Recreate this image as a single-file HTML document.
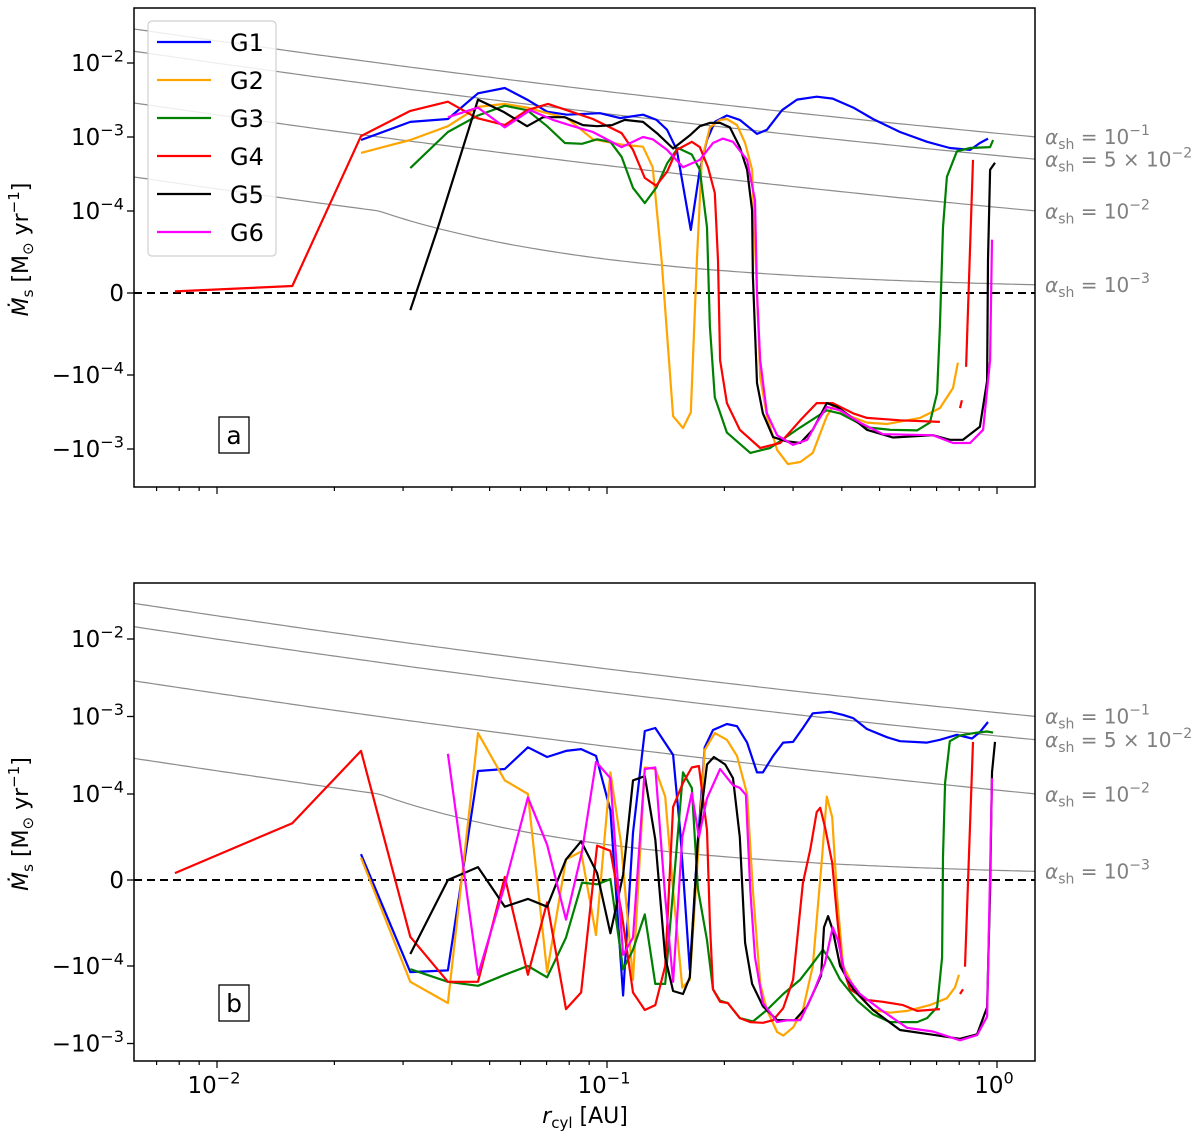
<!DOCTYPE html>
<html><head><meta charset="utf-8"><style>
html,body{margin:0;padding:0;background:#fff;}
svg{display:block;font-family:"DejaVu Sans","Liberation Sans",sans-serif;}
</style></head><body>
<svg id="chart" width="1200" height="1133" viewBox="0 0 1200 1133" xmlns="http://www.w3.org/2000/svg">
<defs>
<clipPath id="clipA"><rect x="134" y="8" width="901" height="479"/></clipPath>
<clipPath id="clipB"><rect x="134" y="583" width="901" height="478"/></clipPath>
</defs>
<g id="root"></g>
</svg>
<script>
// ---------- data ----------
const alphaValues = [0.1, 0.05, 0.01, 0.001];
const alphaLabels = ["10<sup>-1</sup>", "5 × 10<sup>-2</sup>", "10<sup>-2</sup>", "10<sup>-3</sup>"];
const alphaGridR = [0.00562, 0.01, 0.0178, 0.0316, 0.0562, 0.1, 0.178, 0.316, 0.562, 1, 1.413];
const alphaGridLogF = [-0.512, -0.701, -0.884, -1.059, -1.226, -1.386, -1.538, -1.683, -1.820, -1.950, -2.024];
const seriesNames = ["G1","G2","G3","G4","G5","G6"];
const seriesColors = ["#0000ff","#ffa500","#008000","#ff0000","#000000","#ff00ff"];
const xTickLabels = ["10<sup>-2</sup>","10<sup>-1</sup>","10<sup>0</sup>"];
const xTickValues = [0.01, 0.1, 1];
const yTickValues = [1e-2, 1e-3, 1e-4, 0, -1e-4, -1e-3];
const yTickLabels = ["10<sup>-2</sup>","10<sup>-3</sup>","10<sup>-4</sup>","0","−10<sup>-4</sup>","−10<sup>-3</sup>"];

// Panel a
const a_G1_r = [0.0234,0.0313,0.0391,0.0467,0.0547,0.0624,0.0702,0.0789,0.096,0.108,0.1237,0.134,0.1426,0.151,0.164,0.173,0.1805,0.189,0.203,0.219,0.2424,0.257,0.281,0.307,0.345,0.379,0.428,0.481,0.564,0.662,0.757,0.853,0.904,0.948];
const a_G1_v = [9.1e-4,1.6e-3,1.75e-3,3.9e-3,4.6e-3,3.2e-3,2.2e-3,2.0e-3,2.1e-3,1.8e-3,2.0e-3,1.7e-3,1.25e-3,6.7e-4,7.7e-5,3.6e-4,9.1e-4,1.6e-3,1.95e-3,1.7e-3,1.1e-3,1.25e-3,2.3e-3,3.2e-3,3.5e-3,3.3e-3,2.5e-3,1.75e-3,1.17e-3,8.6e-4,7.1e-4,6.7e-4,8.3e-4,9.5e-4];
const a_G2_r = [0.0234,0.0313,0.0391,0.0467,0.0547,0.0624,0.0702,0.0789,0.092,0.109,0.1237,0.131,0.138,0.1477,0.1566,0.164,0.170,0.175,0.1836,0.195,0.203,0.2155,0.226,0.2355,0.2424,0.247,0.257,0.273,0.291,0.313,0.337,0.366,0.379,0.420,0.464,0.522,0.635,0.714,0.771,0.794];
const a_G2_v = [6.1e-4,9.1e-4,1.4e-3,2.55e-3,2.8e-3,2.5e-3,2.1e-3,1.8e-3,9.3e-4,7.9e-4,7.4e-4,3.9e-4,4e-5,-3.6e-4,-5.2e-4,-3.2e-4,4e-5,4.9e-4,1.35e-3,1.7e-3,1.75e-3,1.45e-3,8.3e-4,3.6e-4,0,-1.06e-4,-3.6e-4,-1.03e-3,-1.6e-3,-1.5e-3,-1.13e-3,-3.6e-4,-2.7e-4,-3.6e-4,-4.4e-4,-4.6e-4,-3.8e-4,-2.8e-4,-1.5e-4,-8.5e-5];
const a_G3_r = [0.0313,0.0391,0.0467,0.0547,0.0624,0.0702,0.078,0.0863,0.0943,0.102,0.109,0.1166,0.125,0.134,0.1426,0.152,0.165,0.173,0.1805,0.1836,0.189,0.203,0.233,0.262,0.313,0.366,0.396,0.464,0.532,0.624,0.673,0.702,0.714,0.727,0.744,0.789,0.853,0.960,0.977];
const a_G3_v = [3.8e-4,1.17e-3,1.95e-3,2.65e-3,2.3e-3,1.4e-3,8.3e-4,8.1e-4,9.3e-4,8.6e-4,5.4e-4,2.05e-4,1.28e-4,2.1e-4,4.4e-4,7.1e-4,5.8e-4,3.6e-4,8e-5,-4.1e-5,-2e-4,-6e-4,-1.13e-3,-9.7e-4,-5.1e-4,-3e-4,-3.3e-4,-5.1e-4,-5.5e-4,-5.6e-4,-4.4e-4,-1.75e-4,-4.1e-5,8e-5,2.9e-4,6.4e-4,7.1e-4,7.3e-4,9.1e-4];
const a_G4_r = [0.0078,0.0156,0.0234,0.0313,0.0391,0.0464,0.0547,0.0624,0.0706,0.0789,0.092,0.109,0.1166,0.125,0.1336,0.1426,0.151,0.165,0.173,0.1815,0.189,0.1926,0.195,0.203,0.219,0.247,0.278,0.313,0.345,0.379,0.428,0.464,0.564,0.714,0.76,0.804,0.813,0.82,0.833,0.868];
const a_G4_v = [2e-6,8.5e-6,1.03e-3,2.25e-3,3.0e-3,1.8e-3,1.45e-3,2.3e-3,2.8e-3,2.3e-3,1.75e-3,1.13e-3,6.7e-4,2.8e-4,2.2e-4,3.4e-4,6.7e-4,8.6e-4,7.3e-4,3.9e-4,1.75e-4,4e-5,-8.2e-5,-2.4e-4,-5.5e-4,-9.7e-4,-8.3e-4,-4.1e-4,-2.4e-4,-2.4e-4,-3.3e-4,-3.8e-4,-4.1e-4,-4.3e-4,null,-2.8e-4,-2.2e-4,null,-9e-5,4.9e-4];
const a_G5_r = [0.0313,0.0367,0.0467,0.0542,0.0624,0.0686,0.078,0.0868,0.0943,0.103,0.111,0.1237,0.135,0.1477,0.163,0.173,0.1836,0.195,0.2066,0.219,0.2287,0.2355,0.2367,0.2424,0.251,0.2666,0.2895,0.313,0.337,0.366,0.389,0.420,0.464,0.541,0.685,0.757,0.818,0.904,0.943,0.948,0.960,0.988];
const a_G5_v = [-2.1e-5,7.7e-5,3.2e-3,2.2e-3,1.4e-3,1.85e-3,1.85e-3,1.45e-3,1.4e-3,1.45e-3,1.7e-3,1.6e-3,1.1e-3,7e-4,1.05e-3,1.4e-3,1.55e-3,1.55e-3,1.35e-3,7.3e-4,3.6e-4,1.02e-4,2e-5,-1.28e-4,-3.3e-4,-6.9e-4,-7.9e-4,-8.3e-4,-5.5e-4,-2.4e-4,-2.7e-4,-3.6e-4,-5.5e-4,-7e-4,-6.5e-4,-7.5e-4,-7.5e-4,-5e-4,-1.2e-4,4e-5,3.6e-4,4.5e-4];
const a_G6_r = [0.0391,0.0467,0.0547,0.0635,0.0727,0.0818,0.092,0.109,0.1237,0.131,0.1426,0.1566,0.173,0.187,0.198,0.2104,0.2287,0.2396,0.2424,0.247,0.257,0.273,0.300,0.326,0.345,0.366,0.396,0.445,0.510,0.685,0.771,0.853,0.921,0.960,0.971];
const a_G6_v = [1.85e-3,2.5e-3,1.35e-3,2.3e-3,1.7e-3,1.4e-3,1.17e-3,7.3e-4,1e-3,9.3e-4,6.7e-4,3.9e-4,4.9e-4,8.3e-4,9.5e-4,8.6e-4,4.9e-4,1.4e-4,0,-8.2e-5,-3.3e-4,-6.5e-4,-8.8e-4,-7.5e-4,-4.4e-4,-2.7e-4,-3e-4,-4.4e-4,-6.3e-4,-6.5e-4,-8.3e-4,-8.3e-4,-5.5e-4,-8.2e-5,6.5e-5];

// Panel b
const b_G1_r = [0.0234,0.0313,0.0391,0.0467,0.0547,0.0627,0.0702,0.0785,0.0858,0.0937,0.102,0.11,0.1166,0.125,0.133,0.1477,0.154,0.163,0.170,0.178,0.187,0.203,0.2155,0.2287,0.2424,0.251,0.2666,0.283,0.300,0.318,0.337,0.373,0.403,0.428,0.464,0.522,0.564,0.662,0.714,0.789,0.863,0.904,0.948];
const b_G1_v = [3e-5,-1.2e-4,-1.14e-4,1.98e-4,2.1e-4,4e-4,3e-4,3.6e-4,3.8e-4,3.1e-4,8.1e-5,-2.4e-4,5.5e-5,6.5e-4,7.1e-4,3.2e-4,5.8e-5,-1.13e-4,2.7e-5,4e-4,6.7e-4,8e-4,7.5e-4,4.6e-4,1.9e-4,1.9e-4,3.1e-4,4.6e-4,4.7e-4,7.1e-4,1.1e-3,1.15e-3,1.05e-3,9.5e-4,6.9e-4,5.4e-4,4.8e-4,4.6e-4,5e-4,5.8e-4,5.2e-4,6.3e-4,8.5e-4];
const b_G2_r = [0.0234,0.0313,0.0391,0.0467,0.0547,0.0627,0.0702,0.0785,0.0858,0.0937,0.102,0.1086,0.1166,0.125,0.133,0.141,0.1477,0.156,0.163,0.171,0.178,0.189,0.203,0.2155,0.2287,0.2367,0.247,0.257,0.273,0.283,0.300,0.318,0.337,0.356,0.366,0.378,0.389,0.403,0.438,0.481,0.532,0.588,0.673,0.744,0.780,0.799];
const b_G2_v = [2.6e-5,-1.6e-4,-3e-4,6.1e-4,1.5e-4,1e-4,-1.2e-4,2.4e-5,3.3e-5,-6.4e-5,1.9e-4,4.3e-5,-1.5e-4,2.2e-4,2.1e-4,9.7e-5,-1.2e-5,-1.9e-4,-1.5e-4,2.7e-5,3.7e-4,6.1e-4,5e-4,3.1e-4,1e-4,-1.2e-5,-1.7e-4,-3.7e-4,-7.1e-4,-7.9e-4,-6.2e-4,-3.7e-4,-1e-4,2.7e-5,9.7e-5,7.3e-5,-2e-5,-1e-4,-2.3e-4,-3.7e-4,-4e-4,-3.8e-4,-3.2e-4,-2.6e-4,-1.9e-4,-1.3e-4];
const b_G3_r = [0.0313,0.0391,0.0467,0.0547,0.0627,0.0702,0.0785,0.0863,0.0943,0.102,0.11,0.1166,0.125,0.133,0.141,0.1477,0.1566,0.165,0.171,0.1805,0.187,0.195,0.204,0.219,0.2367,0.257,0.283,0.313,0.337,0.358,0.373,0.396,0.438,0.481,0.532,0.624,0.662,0.702,0.723,0.727,0.736,0.757,0.804,0.889,0.943,0.977];
const b_G3_v = [-1.1e-4,-1.6e-4,-1.8e-4,-1.3e-4,-1.0e-4,-1.4e-4,-6.7e-5,-3e-6,-5e-6,1e-6,-1.1e-4,-8.1e-5,-4e-5,-1.7e-4,-1.7e-4,-1.2e-5,1.9e-4,1.2e-4,-1e-5,-7e-5,-2e-4,-2.8e-4,-3e-4,-4.7e-4,-5.2e-4,-3.7e-4,-2.3e-4,-1.5e-4,-9.7e-5,-8.1e-5,-9.3e-5,-1.5e-4,-2.8e-4,-4.2e-4,-5.3e-4,-5.3e-4,-4.7e-4,-3.4e-4,-9e-5,2.7e-5,1.4e-4,4.8e-4,5.7e-4,6.2e-4,6.4e-4,6.2e-4];
const b_G4_r = [0.0078,0.0156,0.0234,0.0313,0.0391,0.0467,0.0547,0.0627,0.0702,0.0785,0.0858,0.0943,0.102,0.109,0.1166,0.125,0.133,0.141,0.1477,0.1566,0.165,0.172,0.1805,0.1836,0.187,0.195,0.204,0.219,0.233,0.251,0.2666,0.283,0.300,0.318,0.332,0.345,0.352,0.362,0.378,0.389,0.401,0.420,0.464,0.510,0.574,0.624,0.714,0.76,0.804,0.818,0.822,0.828,0.868];
const b_G4_v = [8e-6,6.6e-5,3.6e-4,-6.6e-5,-1.6e-4,-1.6e-4,3.5e-6,-1.3e-4,-2.6e-5,-3.6e-4,-2.2e-4,4e-5,3.4e-5,-3.8e-5,-2.2e-4,-3.7e-4,-3.2e-4,-1.0e-4,8.5e-5,1.39e-4,2.2e-4,2.3e-4,5.8e-5,-5e-5,-2e-4,-2.9e-4,-3e-4,-4.7e-4,-5.3e-4,-5.4e-4,-5e-4,-3.5e-4,-1.5e-4,-3.5e-6,3.5e-5,7.9e-5,8.4e-5,6.2e-5,2e-5,-4.3e-5,-1e-4,-2e-4,-2.75e-4,-2.9e-4,-3.2e-4,-3.8e-4,-3.6e-4,null,-2.3e-4,-2e-4,null,-1.02e-4,4.7e-4];
const b_G5_r = [0.0313,0.0391,0.0467,0.0547,0.0627,0.0702,0.0785,0.0858,0.0943,0.102,0.11,0.1166,0.125,0.133,0.141,0.1477,0.1566,0.163,0.171,0.1805,0.188,0.201,0.2104,0.219,0.226,0.2355,0.251,0.273,0.303,0.326,0.354,0.360,0.369,0.379,0.396,0.428,0.481,0.564,0.673,0.804,0.889,0.943,0.960,0.971,0.988];
const b_G5_v = [-8.6e-5,0,1.5e-5,-3.1e-5,-2.2e-5,-3.1e-5,2.4e-5,4.5e-5,8e-6,-6.2e-5,6e-6,1.5e-4,1.7e-4,4.7e-5,-9e-5,-2.1e-4,-2.3e-4,-1.4e-4,4.7e-5,2.4e-4,3e-4,2.4e-4,1.6e-4,5e-5,-7.3e-5,-1.7e-4,-3.3e-4,-5e-4,-5e-4,-3.3e-4,-1.33e-4,-5.5e-5,-4.2e-5,-5.8e-5,-1e-4,-2e-4,-3.7e-4,-6.7e-4,-7.6e-4,-8.7e-4,-7.6e-4,-3.4e-4,-1.2e-5,1.9e-4,4.7e-4];
const b_G6_r = [0.0391,0.0467,0.0547,0.0627,0.0702,0.0785,0.0863,0.0937,0.102,0.11,0.1166,0.125,0.133,0.141,0.1477,0.156,0.165,0.172,0.1805,0.195,0.2104,0.219,0.227,0.233,0.2396,0.251,0.273,0.291,0.313,0.337,0.362,0.379,0.391,0.408,0.445,0.501,0.588,0.685,0.804,0.889,0.943,0.971];
const b_G6_v = [3.3e-4,-1.3e-4,-6e-6,9.6e-5,4.1e-5,-4.6e-5,3.3e-5,2.6e-4,1.6e-4,-8.7e-5,-6.7e-5,2.1e-4,2.2e-4,-2e-5,-1.6e-4,5e-5,1.03e-4,5e-5,9.5e-5,2.1e-4,1.3e-4,1.2e-4,9.9e-5,-1.2e-5,-9e-5,-3e-4,-5.3e-4,-5e-4,-5e-4,-2.3e-4,-9.7e-5,-5.5e-5,-7e-5,-1.3e-4,-2.3e-4,-3.6e-4,-6.3e-4,-7e-4,-9.1e-4,-7.8e-4,-4.5e-4,1.6e-4];

// ---------- scales ----------
const NS = "http://www.w3.org/2000/svg";
const root = document.getElementById('root');
const X0 = 134, X1 = 1035;
function xs(r){ return 997 + 390 * Math.log10(r); }
const panels = [
  {id:'a', top:8, bottom:487, y0:293, L:82, D:74, clip:'clipA', label:'a', labelY:435,
   series:[[a_G1_r,a_G1_v],[a_G2_r,a_G2_v],[a_G3_r,a_G3_v],[a_G4_r,a_G4_v],[a_G5_r,a_G5_v],[a_G6_r,a_G6_v]], showX:false},
  {id:'b', top:583, bottom:1061, y0:880, L:86, D:77.5, clip:'clipB', label:'b', labelY:1003,
   series:[[b_G1_r,b_G1_v],[b_G2_r,b_G2_v],[b_G3_r,b_G3_v],[b_G4_r,b_G4_v],[b_G5_r,b_G5_v],[b_G6_r,b_G6_v]], showX:true}
];
function mkY(p){
  return function(v){
    const lt = 1e-4;
    if (Math.abs(v) <= lt) return p.y0 - v / lt * p.L;
    const s = v > 0 ? 1 : -1;
    return p.y0 - s * (p.L + (Math.log10(Math.abs(v)) + 4) * p.D);
  };
}
function el(tag, attrs, parent){
  const e = document.createElementNS(NS, tag);
  for (const k in attrs) e.setAttribute(k, attrs[k]);
  (parent || root).appendChild(e);
  return e;
}
function richText(x, y, html, size, anchor, fill, parent){
  const t = el('text', {x:x, y:y, 'font-size':size, 'text-anchor':anchor, fill:fill}, parent);
  const parts = html.split(/(<sup>.*?<\/sup>)/);
  parts.forEach(function(pt){
    if (!pt) return;
    const ts = document.createElementNS(NS, 'tspan');
    if (pt.indexOf('<sup>') === 0){
      ts.textContent = pt.slice(5, -6).replace('-', '−');
      ts.setAttribute('dy', -size*0.42);
      ts.setAttribute('font-size', size*0.7);
      t.appendChild(ts);
    } else {
      ts.textContent = pt;
      t.appendChild(ts);
    }
  });
  return t;
}
function alphaF(r){
  const lr = Math.log10(r);
  for (let i = 0; i < alphaGridR.length - 1; i++){
    const a = Math.log10(alphaGridR[i]), b = Math.log10(alphaGridR[i+1]);
    if (lr <= b || i === alphaGridR.length - 2){
      const t = (lr - a) / (b - a);
      return Math.pow(10, alphaGridLogF[i] + t * (alphaGridLogF[i+1] - alphaGridLogF[i]));
    }
  }
}

panels.forEach(function(p){
  const ys = mkY(p);
  const g = el('g', {});
  
  
  const plot = el('g', {'clip-path':'url(#' + p.clip + ')'}, g);

  alphaValues.forEach(function(a, i){
    let d = '';
    for (let k = 0; k <= 160; k++){
      const lr = Math.log10(0.0058) + k / 160 * (Math.log10(1.3) - Math.log10(0.0058));
      const r = Math.pow(10, lr);
      d += (k ? 'L' : 'M') + xs(r).toFixed(1) + ' ' + ys(a * alphaF(r)).toFixed(1);
    }
    const ln = el('path', {d:d, fill:'none', stroke:'#8c8c8c', 'stroke-width':1.2}, plot);
    
    
    const lbl = el('text', {x:1045, y:(ys(a * alphaF(1.276)) + 7).toFixed(1), 'font-size':20, fill:'#808080'}, g);
    
    
    const t1 = document.createElementNS(NS,'tspan'); t1.setAttribute('font-style','italic'); t1.textContent='α'; lbl.appendChild(t1);
    const t2 = document.createElementNS(NS,'tspan'); t2.setAttribute('font-size','14'); t2.setAttribute('dy','5'); t2.textContent='sh'; lbl.appendChild(t2);
    const t3 = document.createElementNS(NS,'tspan'); t3.setAttribute('dy','-5'); t3.textContent=' = ' + alphaLabels[i].replace(/<sup>.*$/,''); lbl.appendChild(t3);
    const t4 = document.createElementNS(NS,'tspan'); t4.setAttribute('dy','-9'); t4.setAttribute('font-size','14'); t4.textContent=alphaLabels[i].replace(/^.*<sup>/,'').replace('</sup>','').replace('-','−'); lbl.appendChild(t4);
  });

  const z = el('line', {x1:X0, x2:X1, y1:ys(0), y2:ys(0), stroke:'#000', 'stroke-width':2, 'stroke-dasharray':'8,5'}, plot);
  
  

  p.series.forEach(function(s, si){
    const rr = s[0], vv = s[1];
    let d = '', pen = false;
    for (let i = 0; i < rr.length; i++){
      if (vv[i] === null){ pen = false; continue; }
      d += (pen ? 'L' : 'M') + xs(rr[i]).toFixed(1) + ' ' + ys(vv[i]).toFixed(1);
      pen = true;
    }
    const path = el('path', {d:d, fill:'none', stroke:seriesColors[si], 'stroke-width':2.2, 'stroke-linejoin':'round'}, plot);
    
    
  });

  const fr = el('rect', {x:X0, y:p.top, width:X1-X0, height:p.bottom-p.top, fill:'none', stroke:'#000', 'stroke-width':1.5}, g);
  
  

  yTickValues.forEach(function(v, i){
    const y = ys(v);
    el('line', {x1:X0-7, x2:X0, y1:y, y2:y, stroke:'#000', 'stroke-width':1.3}, g);
    const t = richText(124, y + 8, yTickLabels[i], 23, 'end', '#000', g);
    
    
  });

  for (let e = -3; e <= 0; e++){
    for (let m = 1; m <= 9; m++){
      const r = m * Math.pow(10, e);
      const x = xs(r);
      if (x < X0 || x > X1) continue;
      const len = m === 1 ? 7 : 4;
      el('line', {x1:x, x2:x, y1:p.bottom, y2:p.bottom + len, stroke:'#000', 'stroke-width':1.2}, g);
    }
  }
  if (p.showX){
    xTickValues.forEach(function(v, i){
      const t = richText(xs(v) - 3, 1093, xTickLabels[i], 23, 'middle', '#000', g);
      
      
    });
  }

  const midY = (p.top + p.bottom) / 2;
  const yt = el('text', {x:0, y:0, 'font-size':22, 'text-anchor':'middle', transform:'translate(28,' + (midY + 2) + ') rotate(-90)'}, g);
  
  
  yt.innerHTML = '<tspan font-style="italic">Ṁ</tspan><tspan font-size="15" dy="5">s</tspan><tspan dy="-5"> [M</tspan><tspan font-size="15" dy="5">⊙</tspan><tspan dy="-5"> yr</tspan><tspan font-size="15" dy="-9">−1</tspan><tspan dy="9">]</tspan>';

  const lb = el('g', {}, g);
  
  
  el('rect', {x:219, y:p.labelY - 18, width:30, height:36, fill:'#fff', stroke:'#000', 'stroke-width':1.3}, lb);
  el('text', {x:234, y:p.labelY + 9, 'font-size':25, 'text-anchor':'middle'}, lb).textContent = p.label;
});

const leg = el('g', {});


el('rect', {x:148, y:21, width:128, height:235, rx:4, fill:'#fff', 'fill-opacity':0.85, stroke:'#d0d0d0', 'stroke-width':1.2}, leg);
seriesNames.forEach(function(n, i){
  const y = 42 + i * 38;
  const ent = el('g', {}, leg);
  
  
  el('line', {x1:157, x2:211, y1:y, y2:y, stroke:seriesColors[i], 'stroke-width':2.2}, ent);
  el('text', {x:230, y:y + 9, 'font-size':24}, ent).textContent = n;
});

const xt = el('text', {x:585, y:1123, 'font-size':22, 'text-anchor':'middle'});


xt.innerHTML = '<tspan font-style="italic">r</tspan><tspan font-size="15" dy="5">cyl</tspan><tspan dy="-5"> [AU]</tspan>';
</script>
</body></html>
